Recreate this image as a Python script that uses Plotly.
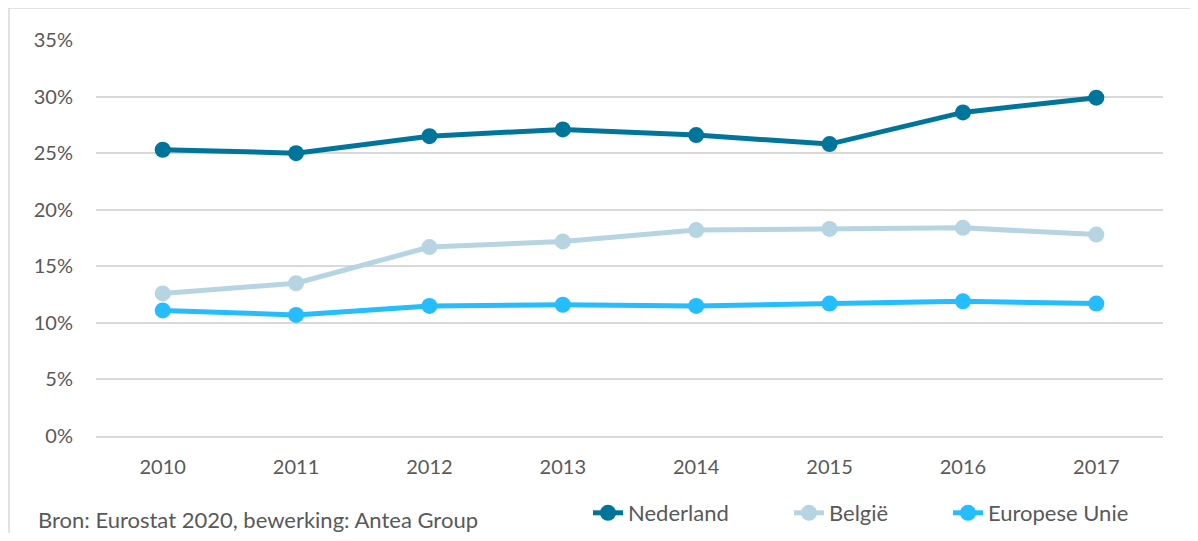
import plotly.graph_objects as go

years = ["2010", "2011", "2012", "2013", "2014", "2015", "2016", "2017"]
nederland = [25.3, 25.0, 26.5, 27.1, 26.6, 25.8, 28.6, 29.9]
belgie = [12.6, 13.5, 16.7, 17.2, 18.2, 18.3, 18.4, 17.8]
eu = [11.1, 10.7, 11.5, 11.6, 11.5, 11.7, 11.9, 11.7]
y_ticks = [0, 5, 10, 15, 20, 25, 30, 35]
y_labels = [f"{v}%" for v in y_ticks]

names = ["Nederland", "België", "Europese Unie"]
colors = ["#00759b", "#b7d4e3", "#25bdfd"]
series = [nederland, belgie, eu]

OFF = 8  # page body margin
W, H = 1198 - OFF, 541 - 2 * OFF
# plot area in screen coords
SL, SR, ST, SB = 96, 1163, 40, 436
L, T = SL - OFF, ST - OFF
R, B = W - (SR - OFF), H - (SB - OFF)
pw, ph = SR - SL, SB - ST

def px_x(x):
    return (x - SL) / pw

def px_y(y):
    return (SB - y) / ph

font = "Lato, 'Open Sans', sans-serif"
txt = "#595959"

fig = go.Figure()
legend_x = [588, 789, 948]
for i, (n, c, s) in enumerate(zip(names, colors, series)):
    fig.add_trace(go.Scatter(
        x=years, y=s, name=n, mode="lines+markers",
        line=dict(color=c, width=5),
        marker=dict(color=c, size=16),
        legend="legend" if i == 0 else f"legend{i+1}",
    ))

legend_common = dict(orientation="h", yanchor="middle", xanchor="left",
                     font=dict(family=font, size=22, color=txt),
                     bgcolor="rgba(0,0,0,0)", itemwidth=30)
layout_legends = {}
for i, lx in enumerate(legend_x):
    key = "legend" if i == 0 else f"legend{i+1}"
    layout_legends[key] = dict(legend_common, x=px_x(lx), y=px_y(513))

fig.update_layout(
    width=W, height=H,
    margin=dict(l=L, r=R, t=T, b=B, autoexpand=False),
    plot_bgcolor="white", paper_bgcolor="white",
    showlegend=True,
    font=dict(family=font, size=20, color=txt),
    xaxis=dict(type="category", range=[-0.5, 7.5], showgrid=False,
               showline=True, linecolor="#d9d9d9", linewidth=1.5,
               ticks="", tickfont=dict(family=font, size=20, color=txt),
               ticklabelstandoff=12, zeroline=False, automargin=False),
    yaxis=dict(range=[0, 35], tickvals=y_ticks, ticktext=y_labels,
               showgrid=True, gridcolor="#d9d9d9", gridwidth=1.5,
               zeroline=False, showline=False, ticks="",
               tickfont=dict(family=font, size=20, color=txt),
               ticklabelstandoff=22, automargin=False),
    shapes=[dict(type="rect", xref="paper", yref="paper",
                 x0=px_x(9), x1=px_x(1194), y0=px_y(560), y1=px_y(8),
                 line=dict(color="#d9d9d9", width=1.5), fillcolor="rgba(0,0,0,0)",
                 layer="below")],
    annotations=[dict(text="Bron: Eurostat 2020, bewerking: Antea Group",
                      xref="paper", yref="paper", x=px_x(36), y=px_y(519),
                      xanchor="left", yanchor="middle", showarrow=False,
                      font=dict(family=font, size=22, color=txt))],
    **layout_legends,
)

fig.write_html("out.html")
